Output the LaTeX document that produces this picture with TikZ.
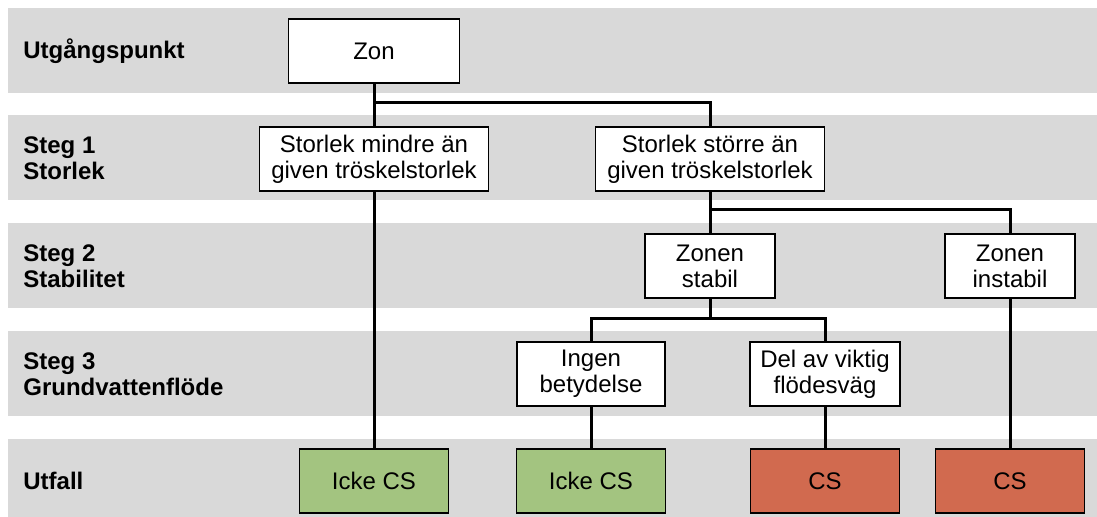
\documentclass[tikz,border=0pt]{standalone}
\usepackage{fontspec}
\setmainfont{Liberation Sans}
\usetikzlibrary{positioning}

\definecolor{bandgray}{HTML}{D9D9D9}
\definecolor{okgreen}{HTML}{A3C480}
\definecolor{csred}{HTML}{D16A4F}

\begin{document}
\begin{tikzpicture}[
    x=0.5pt, y=-0.5pt,
    band/.style={fill=bandgray},
    stage/.style={anchor=west, align=left, font=\fontsize{12}{13}\selectfont\bfseries, inner sep=0pt},
    box/.style={draw, line width=0.8pt, fill=white, align=center, inner sep=0pt, minimum height=32pt, font=\fontsize{12}{13}\selectfont},
    result/.style={box, minimum width=74.5pt},
    edge/.style={draw, line width=1.5pt}
]
\useasboundingbox (0,0) rectangle (1097,517);

% Background bands
\foreach \t/\b in {8/93, 115/200, 223/308, 331/416, 439/517} {
    \fill[band] (8,\t) rectangle (1097,\b);
}

% Stage labels
\node[stage] (l0) at (23,51) {Utgångspunkt};
\node[stage] (l1) at (23,158) {Steg 1\\Storlek};
\node[stage] (l2) at (23,266) {Steg 2\\Stabilitet};
\node[stage] (l3) at (23,374) {Steg 3\\Grundvattenflöde};
\node[stage] (l4) at (23,481) {Utfall};

% Branch levels
\coordinate (b1) at (0,103);
\coordinate (b2) at (0,210);
\coordinate (b3) at (0,319);

% Decision boxes
\node[box, minimum width=85.5pt] (zon) at (374,51) {Zon};
\node[box, minimum width=114.5pt] (small) at (374,159) {Storlek mindre än\\given tröskelstorlek};
\node[box, minimum width=114.5pt] (large) at (710,159) {Storlek större än\\given tröskelstorlek};
\node[box, minimum width=65pt] (stable) at (710,266) {Zonen\\stabil};
\node[box, minimum width=65pt] (unstable) at (1010,266) {Zonen\\instabil};
\node[box, minimum width=74pt] (none) at (591,374) {Ingen\\betydelse};
\node[box, minimum width=75pt] (flow) at (825,374) {Del av viktig\\flödesväg};

% Outcomes
\node[result, fill=okgreen] (out1) at (374,481) {Icke CS};
\node[result, fill=okgreen] (out2) at (591,481) {Icke CS};
\node[result, fill=csred] (out3) at (825,481) {CS};
\node[result, fill=csred] (out4) at (1010,481) {CS};

% Branching connectors
\foreach \u/\v/\b in {zon/small/b1, zon/large/b1, large/stable/b2, large/unstable/b2, stable/none/b3, stable/flow/b3} {
    \draw[edge] (\u.south) -- (\u.south |- \b) -| (\v.north);
}

% Straight connectors to outcomes
\foreach \u/\v in {small/out1, none/out2, flow/out3, unstable/out4} {
    \draw[edge] (\u) -- (\v);
}

\end{tikzpicture}
\end{document}
